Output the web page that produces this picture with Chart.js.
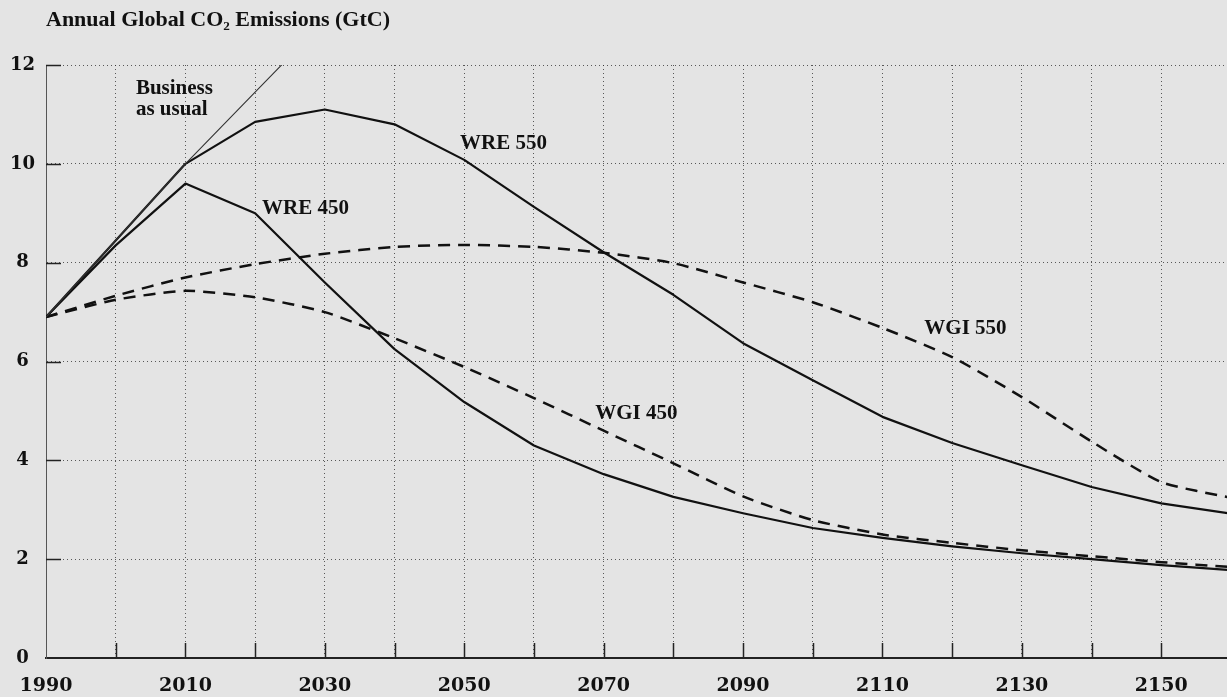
<!DOCTYPE html>
<html>
<head>
<meta charset="utf-8">
<title>Annual Global CO₂ Emissions (GtC)</title>
<script src="https://cdn.jsdelivr.net/npm/chart.js@4.4.1/dist/chart.umd.min.js"></script>
<style>
  html, body { margin: 0; padding: 0; overflow: hidden; background: #e4e4e4; }
  #wrap { width: 1248px; height: 697px; }
</style>
</head>
<body>
<div id="wrap"><canvas id="chart" width="1248" height="697"></canvas></div>
<script>
// Emission pathways, GtC per year, sampled every decade
const years = [1990, 2000, 2010, 2020, 2030, 2040, 2050, 2060, 2070, 2080,
               2090, 2100, 2110, 2120, 2130, 2140, 2150, 2160];
const bauYears = [1990, 2000, 2010, 2020, 2030];
const businessAsUsual = [6.9, 8.45, 10.0, 11.45, 12.9];
const wre550 = [6.9, 8.45, 10.0, 10.85, 11.1, 10.8, 10.08, 9.13, 8.21, 7.35,
                6.37, 5.62, 4.88, 4.35, 3.9, 3.46, 3.13, 2.92];
const wre450 = [6.9, 8.35, 9.6, 9.0, 7.6, 6.25, 5.18, 4.3, 3.72, 3.26,
                2.93, 2.63, 2.43, 2.26, 2.12, 2.0, 1.88, 1.78];
const wgi550 = [6.9, 7.33, 7.7, 7.97, 8.18, 8.32, 8.36, 8.32, 8.2, 7.99,
                7.6, 7.2, 6.68, 6.09, 5.28, 4.38, 3.56, 3.24];
const wgi450 = [6.9, 7.25, 7.43, 7.3, 7.0, 6.47, 5.89, 5.26, 4.6, 3.94,
                3.27, 2.79, 2.5, 2.33, 2.18, 2.06, 1.94, 1.84];

const xTickLabels = ['1990', '2010', '2030', '2050', '2070', '2090', '2110', '2130', '2150'];
const yTickLabels = ['0', '2', '4', '6', '8', '10', '12'];

// Curve names written beside their lines (anchored in data units)
const curveLabels = [
  { text: 'Business', year: 2002.9, value: 11.53 },
  { text: 'as usual', year: 2002.9, value: 11.09 },
  { text: 'WRE 550', year: 2049.4, value: 10.4 },
  { text: 'WRE 450', year: 2021.0, value: 9.09 },
  { text: 'WGI 550', year: 2116.0, value: 6.66 },
  { text: 'WGI 450', year: 2068.8, value: 4.94 }
];

const toPoints = (xs, ys) => xs.map((x, i) => ({ x, y: ys[i] }));

const INK = '#111111';
const SERIF = '"Liberation Serif", "Times New Roman", serif';
const TICK_SERIF = '"DejaVu Serif", serif';

// Short inward tick marks along both axes
const innerTicks = {
  id: 'innerTicks',
  afterDatasetsDraw(chart) {
    const { ctx, scales: { x, y }, chartArea } = chart;
    ctx.save();
    ctx.strokeStyle = '#222';
    ctx.lineWidth = 1.5;
    ctx.beginPath();
    x.ticks.forEach(t => {
      if (t.value <= x.min || t.value >= x.max) return;
      const px = Math.round(x.getPixelForValue(t.value)) + 0.5;
      ctx.moveTo(px, chartArea.bottom);
      ctx.lineTo(px, chartArea.bottom - 15);
    });
    y.ticks.forEach(t => {
      if (t.value <= y.min) return;
      const py = Math.round(y.getPixelForValue(t.value)) + 0.5;
      ctx.moveTo(chartArea.left, py);
      ctx.lineTo(chartArea.left + 15, py);
    });
    ctx.stroke();
    ctx.restore();
  }
};

const curveNames = {
  id: 'curveNames',
  afterDatasetsDraw(chart) {
    const { ctx, scales: { x, y } } = chart;
    ctx.save();
    ctx.font = 'bold 21px ' + SERIF;
    ctx.fillStyle = INK;
    ctx.textAlign = 'left';
    ctx.textBaseline = 'middle';
    curveLabels.forEach(l => {
      ctx.fillText(l.text, x.getPixelForValue(l.year), y.getPixelForValue(l.value));
    });
    ctx.restore();
  }
};

const solid = (label, data, width) => ({
  label, data, borderColor: INK, borderWidth: width,
  pointRadius: 0, tension: 0, fill: false, borderJoinStyle: 'round'
});
const dashed = (label, data) => ({
  label, data, borderColor: INK, borderWidth: 2.5, borderDash: [12, 8],
  pointRadius: 0, tension: 0.2, fill: false
});

new Chart(document.getElementById('chart'), {
  type: 'line',
  data: {
    datasets: [
      Object.assign(solid('Business as usual', toPoints(bauYears, businessAsUsual), 1.1), { borderColor: '#333' }),
      solid('WRE 550', toPoints(years, wre550), 2.2),
      solid('WRE 450', toPoints(years, wre450), 2.2),
      dashed('WGI 550', toPoints(years, wgi550)),
      dashed('WGI 450', toPoints(years, wgi450))
    ]
  },
  options: {
    responsive: false,
    animation: false,
    layout: { padding: { left: 0, right: 0, top: 0, bottom: 0 } },
    plugins: {
      legend: { display: false },
      tooltip: { enabled: false },
      title: {
        display: true,
        text: 'Annual Global CO₂ Emissions (GtC)',
        align: 'start',
        fullSize: false,
        color: INK,
        font: { family: SERIF, size: 22, weight: 'bold' },
        padding: { top: 7, bottom: 31.6 }
      }
    },
    scales: {
      x: {
        type: 'linear',
        min: 1990,
        max: 2160,
        afterFit: s => { s.height = 39; },
        ticks: {
          stepSize: 10,
          autoSkip: false,
          maxRotation: 0,
          padding: 17,
          color: INK,
          font: { family: TICK_SERIF, size: 19, weight: 'bold' },
          callback: v => xTickLabels.includes(String(v)) ? String(v) : ''
        },
        grid: { color: 'rgba(40,40,40,0.75)', lineWidth: 1, drawTicks: false },
        border: { display: true, color: '#222', width: 2, dash: [1, 3] }
      },
      y: {
        min: 0,
        max: 12,
        afterFit: s => { s.width = 46; },
        ticks: {
          stepSize: 2,
          crossAlign: 'center',
          padding: 11,
          color: INK,
          font: { family: TICK_SERIF, size: 18, weight: 'bold' },
          callback: v => yTickLabels.includes(String(v)) ? String(v) : ''
        },
        grid: { color: 'rgba(40,40,40,0.75)', lineWidth: 1, drawTicks: false },
        border: { display: true, color: '#555', width: 1, dash: [1, 3] }
      }
    }
  },
  plugins: [innerTicks, curveNames]
});
</script>
</body>
</html>
